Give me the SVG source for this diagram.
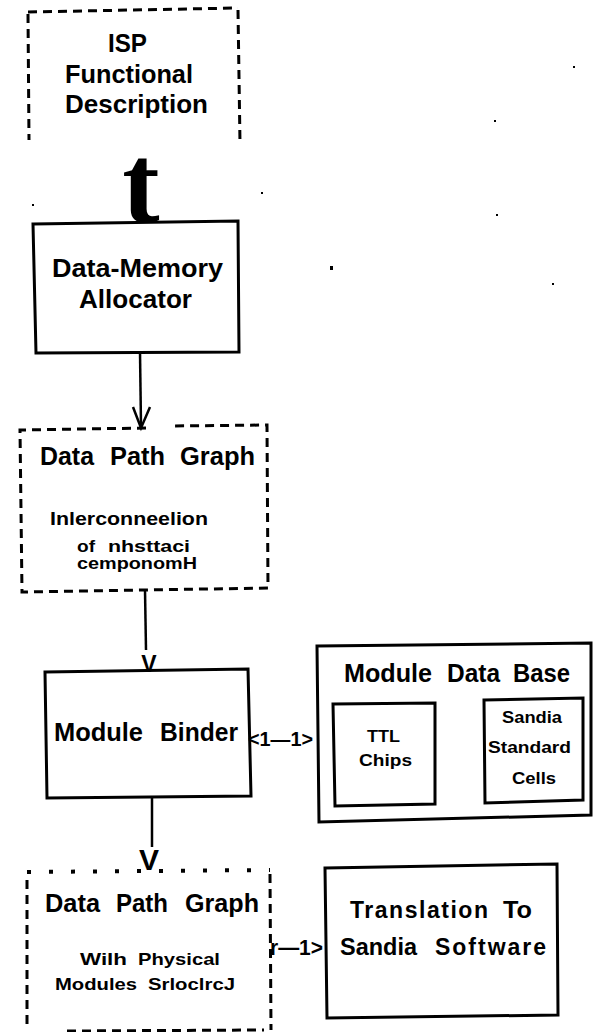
<svg xmlns="http://www.w3.org/2000/svg" width="593" height="1032" viewBox="0 0 593 1032">
  <style>
    .box { fill: none; stroke: #000; stroke-width: 3; }
    .dash { fill: none; stroke: #000; stroke-width: 3; stroke-dasharray: 9 6; }
    .dots { fill: none; stroke: #000; stroke-width: 4; stroke-dasharray: 4 18; }
    .wire { fill: none; stroke: #000; stroke-width: 2.5; }
    .lbl { font-family: "Liberation Sans", Arial, sans-serif; font-weight: bold; fill: #000; }
    .big { font-size: 25px; }
    .mid { font-size: 23px; }
    .sm { font-size: 19px; }
    .xs { font-size: 17px; }
    .speck { fill: #000; }
  </style>

  <rect x="0" y="0" width="593" height="1032" fill="#fff"/>

  <!-- ISP functional description (dashed, open at bottom) -->
  <g id="isp">
    <path class="dash" d="M28,12 L238,8"/>
    <path class="dash" d="M28,14 L29,140"/>
    <path class="dash" d="M238,10 L240,143"/>
    <text class="lbl big" x="108" y="52" textLength="39" lengthAdjust="spacingAndGlyphs">ISP</text>
    <text class="lbl big" x="65" y="83" textLength="128" lengthAdjust="spacingAndGlyphs">Functional</text>
    <text class="lbl big" x="65" y="113" textLength="143" lengthAdjust="spacingAndGlyphs">Description</text>
  </g>

  <!-- Data-Memory Allocator -->
  <g id="allocator">
    <path class="box" d="M33,224 L238,221 L239,352 L36,353 Z"/>
    <text class="lbl big" x="52" y="277" textLength="171" lengthAdjust="spacingAndGlyphs">Data-Memory</text>
    <text class="lbl big" x="79" y="308" textLength="113" lengthAdjust="spacingAndGlyphs">Allocator</text>
  </g>

  <!-- Data Path Graph (interconnection) -->
  <g id="dpg1">
    <path class="dash" d="M146,428 L20,430 L22,592 L268,588 L267,425 L172,426"/>
    <text class="lbl big" x="40" y="465" textLength="54" lengthAdjust="spacingAndGlyphs">Data</text>
    <text class="lbl big" x="110" y="465" textLength="55" lengthAdjust="spacingAndGlyphs">Path</text>
    <text class="lbl big" x="180" y="465" textLength="75" lengthAdjust="spacingAndGlyphs">Graph</text>
    <text class="lbl sm" x="50" y="525" textLength="158" lengthAdjust="spacingAndGlyphs">Inlerconneelion</text>
    <text class="lbl xs" x="77" y="552" textLength="18" lengthAdjust="spacingAndGlyphs">of</text>
    <text class="lbl xs" x="108" y="552" textLength="82" lengthAdjust="spacingAndGlyphs">nhsttaci</text>
    <text class="lbl xs" x="77" y="569" textLength="120" lengthAdjust="spacingAndGlyphs">cemponomH</text>
  </g>

  <!-- Module Binder -->
  <g id="binder">
    <path class="box" d="M45,672 L248,669 L251,796 L47,798 Z"/>
    <text class="lbl big" x="54" y="741" textLength="89" lengthAdjust="spacingAndGlyphs">Module</text>
    <text class="lbl big" x="160" y="741" textLength="78" lengthAdjust="spacingAndGlyphs">Binder</text>
  </g>

  <!-- Module Data Base with its two libraries -->
  <g id="database">
    <path class="box" d="M317,646 L591,643 L591,815 L319,822 Z"/>
    <text class="lbl big" x="344" y="682" textLength="88" lengthAdjust="spacingAndGlyphs">Module</text>
    <text class="lbl big" x="447" y="682" textLength="53" lengthAdjust="spacingAndGlyphs">Data</text>
    <text class="lbl big" x="513" y="682" textLength="57" lengthAdjust="spacingAndGlyphs">Base</text>
    <g id="ttl">
      <path class="box" d="M333,704 L435,703 L435,804 L335,806 Z"/>
      <text class="lbl xs" x="367" y="742" textLength="33" lengthAdjust="spacingAndGlyphs">TTL</text>
      <text class="lbl xs" x="359" y="766" textLength="53" lengthAdjust="spacingAndGlyphs">Chips</text>
    </g>
    <g id="cells">
      <path class="box" d="M484,700 L583,698 L583,800 L485,803 Z"/>
      <text class="lbl xs" x="502" y="723" textLength="60" lengthAdjust="spacingAndGlyphs">Sandia</text>
      <text class="lbl xs" x="488" y="753" textLength="83" lengthAdjust="spacingAndGlyphs">Standard</text>
      <text class="lbl xs" x="512" y="784" textLength="44" lengthAdjust="spacingAndGlyphs">Cells</text>
    </g>
  </g>

  <!-- Data Path Graph with physical modules -->
  <g id="dpg2">
    <path class="dots" d="M27,872 L270,870"/>
    <path class="dash" d="M27,880 L27,1028"/>
    <path class="dash" d="M270,874 L271,1030"/>
    <path class="dash" d="M67,1031 L264,1030"/>
    <text class="lbl big" x="45" y="912" textLength="55" lengthAdjust="spacingAndGlyphs">Data</text>
    <text class="lbl big" x="116" y="912" textLength="52" lengthAdjust="spacingAndGlyphs">Path</text>
    <text class="lbl big" x="185" y="912" textLength="74" lengthAdjust="spacingAndGlyphs">Graph</text>
    <text class="lbl xs" x="80" y="965" textLength="47" lengthAdjust="spacingAndGlyphs">Wilh</text>
    <text class="lbl xs" x="138" y="965" textLength="82" lengthAdjust="spacingAndGlyphs">Physical</text>
    <text class="lbl xs" x="55" y="990" textLength="82" lengthAdjust="spacingAndGlyphs">Modules</text>
    <text class="lbl xs" x="148" y="990" textLength="87" lengthAdjust="spacingAndGlyphs">SrloclrcJ</text>
  </g>

  <!-- Translation To Sandia Software -->
  <g id="translation">
    <path class="box" d="M325,868 L557,864 L558,1015 L327,1018 Z"/>
    <text class="lbl mid" x="350" y="918" textLength="138" lengthAdjust="spacing">Translation</text>
    <text class="lbl mid" x="503" y="918" textLength="29" lengthAdjust="spacingAndGlyphs">To</text>
    <text class="lbl mid" x="340" y="955" textLength="77" lengthAdjust="spacingAndGlyphs">Sandia</text>
    <text class="lbl mid" x="435" y="955" textLength="111" lengthAdjust="spacing">Software</text>
  </g>

  <!-- Connectors -->
  <g id="connectors">
    <text x="141" y="222" text-anchor="middle" style="font-family:'Liberation Serif',serif;font-weight:bold;font-size:112px">t</text>
    <path class="wire" d="M140,352 L141,426"/>
    <path class="wire" d="M133,407 L141,428 L150,407"/>
    <path class="wire" d="M145,590 L146,650"/>
    <text class="lbl" x="149" y="672" text-anchor="middle" style="font-size:23px">V</text>
    <path class="wire" d="M152,797 L152,847"/>
    <text class="lbl" x="149" y="870" text-anchor="middle" style="font-size:30px">V</text>
    <text class="lbl" x="248" y="746" textLength="65" lengthAdjust="spacingAndGlyphs" style="font-size:20px">&lt;1—1&gt;</text>
    <text class="lbl" x="270" y="955" textLength="53" lengthAdjust="spacingAndGlyphs" style="font-size:22px">r—1&gt;</text>
  </g>

  <!-- stray specks -->
  <g id="specks">
    <rect class="speck" x="330" y="266" width="3" height="4"/>
    <rect class="speck" x="573" y="66" width="2" height="2"/>
    <rect class="speck" x="494" y="120" width="2" height="2"/>
    <rect class="speck" x="496" y="214" width="2" height="2"/>
    <rect class="speck" x="552" y="283" width="2" height="2"/>
    <rect class="speck" x="32" y="204" width="2" height="2"/>
    <rect class="speck" x="261" y="192" width="2" height="2"/>
  </g>
</svg>
